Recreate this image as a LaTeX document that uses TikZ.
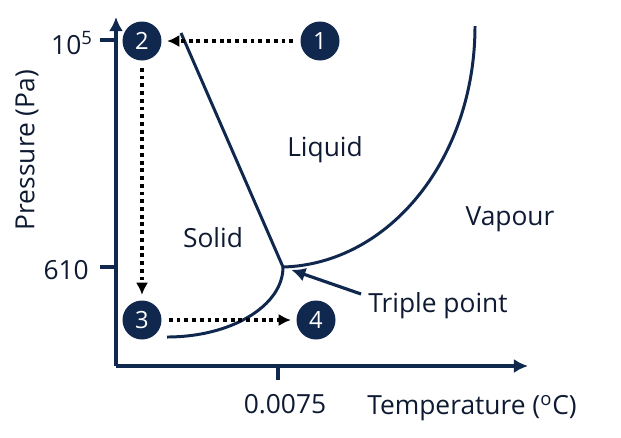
\documentclass[tikz,border=0pt]{standalone}
\usepackage{fontspec}
\setmainfont{Open Sans}
\usetikzlibrary{positioning,arrows.meta}
\definecolor{navy}{RGB}{16,40,78}
\definecolor{ink}{RGB}{14,26,50}

\begin{document}
\begin{tikzpicture}
		[x=0.02cm,y=-0.02cm,
		state/.style={circle,fill=navy,text=white,inner sep=0pt,minimum size=0.78cm,font=\fontsize{13.5}{15}\selectfont},
		phase/.style={text=ink,font=\fontsize{15}{17}\selectfont},
		axis/.style={draw=navy,line width=2.2pt},
		curve/.style={draw=navy,line width=1.7pt},
		move/.style={-{Latex[length=7pt,width=7pt]},line width=2.2pt,dash pattern=on 2.2pt off 2.2pt,shorten >=3pt,shorten <=4pt}]
		\useasboundingbox (0,0) rectangle (621,437);

		% axes
		\coordinate (O) at (116,366);
		\coordinate (ytop) at (116,17);
		\coordinate (xend) at (528,366);
		\draw [axis,-{Latex[length=8pt,width=8pt]}] (O) -- (ytop);
		\draw [axis,-{Latex[length=8pt,width=8pt]}] (O) -- (xend);
		\draw [axis] (100,40) -- (116,40);
		\draw [axis] (100,267) -- (116,267);
		\draw [axis] (278,366) -- (278,380);
		\node [phase,anchor=east] (p1) at (99,43) {10\textsuperscript{5}};
		\node [phase,anchor=east] (p2) at (95,270) {610};
		\node [phase] (t1) at (285,404) {0.0075};
		\node [phase] (tlab) at (472,408) {Temperature (\textsuperscript{o}C)};
		\node [phase,rotate=90] (plab) at (27,150) {Pressure (Pa)};

		% phase boundaries
		\coordinate (tp) at (283,267);
		\draw [curve] (181,33) -- (tp);
		\draw [curve] (167,337) .. controls (231,337) and (283,306) .. (tp);
		\draw [curve] (tp) .. controls (389,264) and (475,159) .. (475,26);

		\node [phase] (liq) at (325,150) {Liquid};
		\node [phase] (sol) at (213,238) {Solid};
		\node [phase] (vap) at (510,219) {Vapour};
		\node [phase] (tplab) at (438,306) {Triple point};
		\coordinate (tparrow) at (361,294);
		\draw [navy,line width=1.8pt,-{Latex[length=8pt,width=8pt]},shorten >=5pt] (tparrow) -- (tp);

		% states
		\node [state] (s1) at (320,41) {1};
		\node [state] (s2) at (142,41) {2};
		\node [state] (s3) at (142,320) {3};
		\node [state] (s4) at (316,320) {4};
		\draw [move] (s1) -- (s2);
		\draw [move] (s2) -- (s3);
		\draw [move] (s3) -- (s4);
	\end{tikzpicture}
\end{document}
